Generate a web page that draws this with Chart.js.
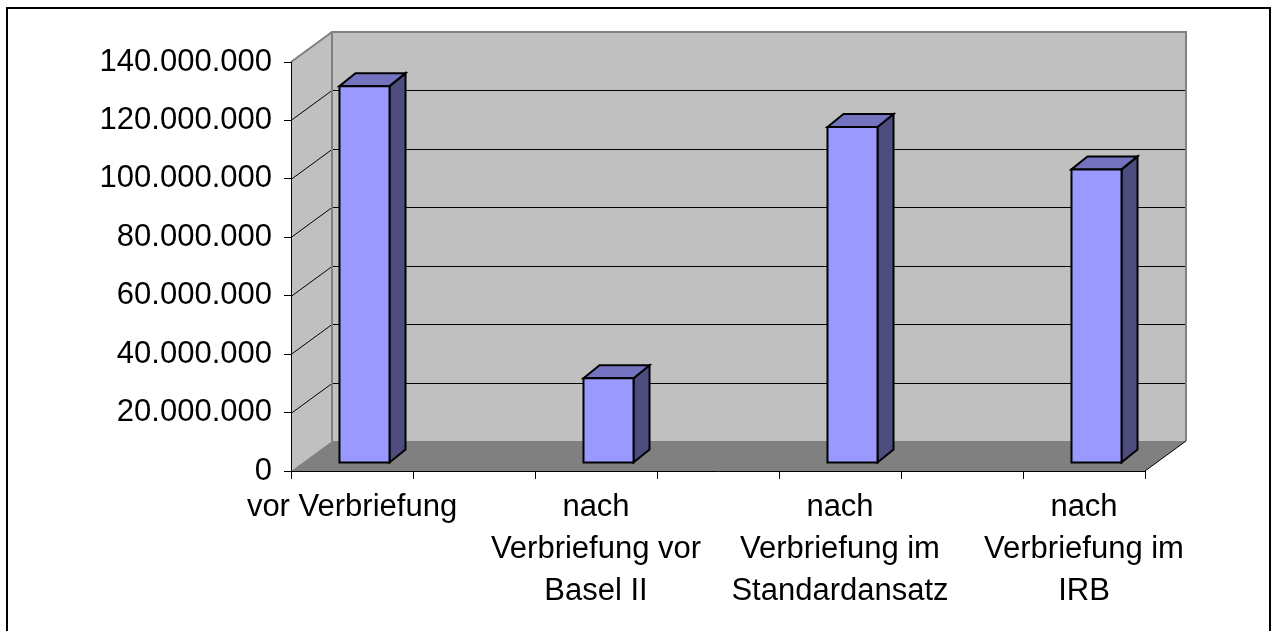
<!DOCTYPE html>
<html>
<head>
<meta charset="utf-8">
<script src="https://cdn.jsdelivr.net/npm/chart.js@4.4.0/dist/chart.umd.min.js"></script>
<style>
    body { margin: 0; background: #fff; }
    canvas { display: block; }
</style>
</head>
<body>
<canvas id="myChart" width="1271" height="631"></canvas>
<script>
// data (blank slots between the columns, as in the original sheet)
var categories = [
    ['vor Verbriefung'], '',
    ['nach', 'Verbriefung vor', 'Basel II'], '',
    ['nach', 'Verbriefung im', 'Standardansatz'], '',
    ['nach', 'Verbriefung im', 'IRB']
];
var values = [129000000, null, 29000000, null, 115000000, null, 100500000];
var yMax = 140000000;
var yStep = 20000000;

// fake 3d offsets
var wallDx = 41, wallDy = -30;
var barDx = 12.5, barDy = -8;
var depthDx = 16, depthDy = -13;

function fmt(v) {
    return String(v).replace(/\B(?=(\d{3})+(?!\d))/g, '.');
}

function poly(c, pts, fill) {
    c.beginPath();
    c.moveTo(pts[0][0], pts[0][1]);
    for (var i = 1; i < pts.length; i++) c.lineTo(pts[i][0], pts[i][1]);
    c.closePath();
    c.fillStyle = fill;
    c.fill();
    c.stroke();
}

var box3d = {
    id: 'box3d',
    beforeDraw: function (chart) {
        var c = chart.ctx, a = chart.chartArea, y = chart.scales.y;
        c.save();
        c.fillStyle = '#fff';
        c.fillRect(0, 0, chart.width, chart.height);
        c.strokeStyle = '#000';
        c.lineWidth = 2;
        c.strokeRect(7, 8, chart.width - 8, chart.height + 20);

        // side wall + back wall
        c.fillStyle = '#c0c0c0';
        c.beginPath();
        c.moveTo(a.left, a.top);
        c.lineTo(a.left + wallDx, a.top + wallDy);
        c.lineTo(a.left + wallDx, a.bottom + wallDy);
        c.lineTo(a.left, a.bottom);
        c.closePath();
        c.fill();
        c.fillRect(a.left + wallDx, a.top + wallDy, a.right - a.left, a.bottom - a.top);

        // grid lines on the walls
        c.strokeStyle = '#000';
        c.lineWidth = 1;
        y.ticks.forEach(function (t) {
            if (t.value <= 0 || t.value >= yMax) return;
            var py = Math.round(y.getPixelForValue(t.value)) + 0.5;
            c.beginPath();
            c.moveTo(a.left, py);
            c.lineTo(a.left + wallDx, py + wallDy);
            c.lineTo(a.right + wallDx, py + wallDy);
            c.stroke();
        });

        // wall edges
        c.strokeStyle = '#808080';
        c.lineWidth = 2;
        c.beginPath();
        c.moveTo(a.left, a.top);
        c.lineTo(a.left + wallDx, a.top + wallDy);
        c.lineTo(a.right + wallDx, a.top + wallDy);
        c.lineTo(a.right + wallDx, a.bottom + wallDy);
        c.stroke();
        c.beginPath();
        c.moveTo(a.left + wallDx, a.top + wallDy);
        c.lineTo(a.left + wallDx, a.bottom + wallDy);
        c.stroke();

        // floor
        c.fillStyle = '#808080';
        c.beginPath();
        c.moveTo(a.left, a.bottom);
        c.lineTo(a.right, a.bottom);
        c.lineTo(a.right + wallDx, a.bottom + wallDy);
        c.lineTo(a.left + wallDx, a.bottom + wallDy);
        c.closePath();
        c.fill();
        c.strokeStyle = '#000';
        c.lineWidth = 1;
        c.beginPath();
        c.moveTo(a.right, a.bottom);
        c.lineTo(a.right + wallDx, a.bottom + wallDy);
        c.stroke();
        c.restore();
    },
    afterDatasetsDraw: function (chart) {
        var c = chart.ctx;
        var meta = chart.getDatasetMeta(0);
        c.save();
        c.strokeStyle = '#000';
        c.lineWidth = 2;
        c.lineJoin = 'miter';
        meta.data.forEach(function (bar, i) {
            if (values[i] == null) return;
            var l = bar.x - bar.width / 2 + barDx, r = bar.x + bar.width / 2 + barDx;
            var t = bar.y + barDy, b = bar.base + barDy;
            poly(c, [[r, t], [r + depthDx, t + depthDy], [r + depthDx, b + depthDy], [r, b]], '#4d4d80');
            poly(c, [[l, t], [l + depthDx, t + depthDy], [r + depthDx, t + depthDy], [r, t]], '#7373c0');
            poly(c, [[l, t], [r, t], [r, b], [l, b]], '#9999ff');
        });
        c.restore();
    }
};

var font = { family: '"Liberation Sans", Arial, sans-serif', size: 31, lineHeight: 1.35 };

new Chart(document.getElementById('myChart'), {
    type: 'bar',
    data: {
        labels: categories,
        datasets: [{
            data: values,
            backgroundColor: 'rgba(0,0,0,0)',
            borderWidth: 0,
            barPercentage: 0.41,
            categoryPercentage: 1
        }]
    },
    options: {
        responsive: false,
        animation: false,
        layout: { padding: { left: 0, right: 126, top: 62, bottom: 0 } },
        plugins: { legend: { display: false }, tooltip: { enabled: false } },
        scales: {
            x: {
                grid: { offset: true, drawOnChartArea: false, tickLength: 8, color: '#000' },
                border: { color: '#000', width: 1 },
                ticks: { autoSkip: false, maxRotation: 0, minRotation: 0, color: '#000', font: font, padding: 8 },
                afterFit: function (s) { s.height = 160; }
            },
            y: {
                min: 0,
                max: yMax,
                grid: { drawOnChartArea: false, tickLength: 7, color: '#000' },
                border: { color: '#000', width: 1 },
                ticks: { stepSize: yStep, color: '#000', font: font, padding: 12, callback: fmt },
                afterFit: function (s) { s.width = 291; }
            }
        }
    },
    plugins: [box3d]
});
</script>
</body>
</html>
